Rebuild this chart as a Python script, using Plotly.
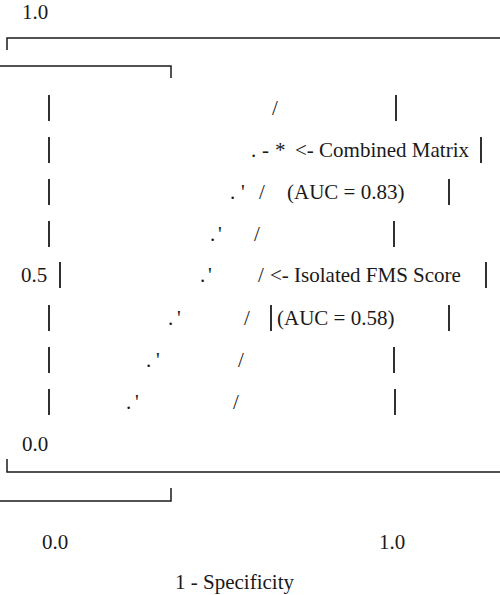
import plotly.graph_objects as go

# ---- data ----
Y_TICKS = ["1.0", "0.5", "0.0"]
X_TICKS = ["0.0", "1.0"]
X_TITLE = "1 - Specificity"
SERIES = ["Combined Matrix", "Isolated FMS Score"]
AUC = [0.83, 0.58]

# ---- layout (pixel canvas) ----
W, H = 500, 595
FONT = dict(family="Liberation Serif, Times New Roman, serif", size=21, color="#1a1a1a")
INK = "#1a1a1a"

ROWS = [108, 150, 192, 234, 275, 318, 360, 402]
# combined-matrix dotted curve glyph centers (dot x, quote x) for rows 2..7
DOT_X = [232, 212, 202, 170, 148, 128]
QUOTE_X = [243, 220, 210, 179, 158, 137]
# isolated-score slash centers
SLASH_ROWS = [0, 2, 3, 4, 5, 6, 7]
SLASH_X = [275, 262, 257, 261, 247, 241, 236]
# bars: (row index, x)
BARS = [(0, 49), (0, 396), (1, 49), (1, 481), (2, 49), (2, 449), (3, 49), (3, 394),
        (4, 60), (4, 486), (5, 49), (5, 271), (5, 449), (6, 49), (6, 394), (7, 49), (7, 395)]

fig = go.Figure()

fx, fy = [], []
for seg in [
    [(7, 50), (7, 38), (W, 38)],
    [(0, 66), (171, 66), (171, 78)],
    [(7, 459), (7, 472), (W, 472)],
    [(0, 501), (171, 501), (171, 488)],
]:
    for px, py in seg:
        fx.append(px); fy.append(py)
    fx.append(None); fy.append(None)
fig.add_trace(go.Scatter(x=fx, y=fy, mode="lines", line=dict(color=INK, width=1.5),
                         hoverinfo="skip", showlegend=False))

bx, by = [], []
for r, x in BARS:
    y = ROWS[r]
    bx += [x, x, None]; by += [y - 13, y + 13, None]
fig.add_trace(go.Scatter(x=bx, y=by, mode="lines", line=dict(color=INK, width=1.8),
                         hoverinfo="skip", showlegend=False))

ann = []
def txt(t, x, y, anchor="center"):
    ann.append(dict(text=t, x=x, y=y, xref="x", yref="y", xanchor=anchor, yanchor="middle",
                    showarrow=False, font=dict(FONT), borderpad=0))

txt(Y_TICKS[0], 21, 12, "left")
txt(Y_TICKS[1], 20, ROWS[4], "left")
txt(Y_TICKS[2], 21, 444, "left")
txt(X_TICKS[0], 41, 542, "left")
txt(X_TICKS[1], 378, 542, "left")
txt(X_TITLE, 174, 582, "left")

txt(".", 253, ROWS[1]); txt("-", 265, ROWS[1]); txt("*", 280, ROWS[1])
for i, (dx, qx) in enumerate(zip(DOT_X, QUOTE_X)):
    txt(".", dx, ROWS[i + 2]); txt("'", qx, ROWS[i + 2])
for r, sx in zip(SLASH_ROWS, SLASH_X):
    txt("/", sx, ROWS[r])

txt("<- " + SERIES[0], 294, ROWS[1], "left")
txt("(AUC = %.2f)" % AUC[0], 286, ROWS[2], "left")
txt("<- " + SERIES[1], 269, ROWS[4], "left")
txt("(AUC = %.2f)" % AUC[1], 276, ROWS[5], "left")

fig.update_layout(
    width=W, height=H, margin=dict(l=0, r=0, t=0, b=0),
    paper_bgcolor="white", plot_bgcolor="white",
    font=dict(FONT),
    xaxis=dict(range=[0, W], visible=False, fixedrange=True),
    yaxis=dict(range=[H, 0], visible=False, fixedrange=True),
    annotations=ann, showlegend=False,
)
fig.write_html("out.html", config={"displayModeBar": False},
               post_script="document.body.style.margin='0';document.body.style.overflow='hidden';")
